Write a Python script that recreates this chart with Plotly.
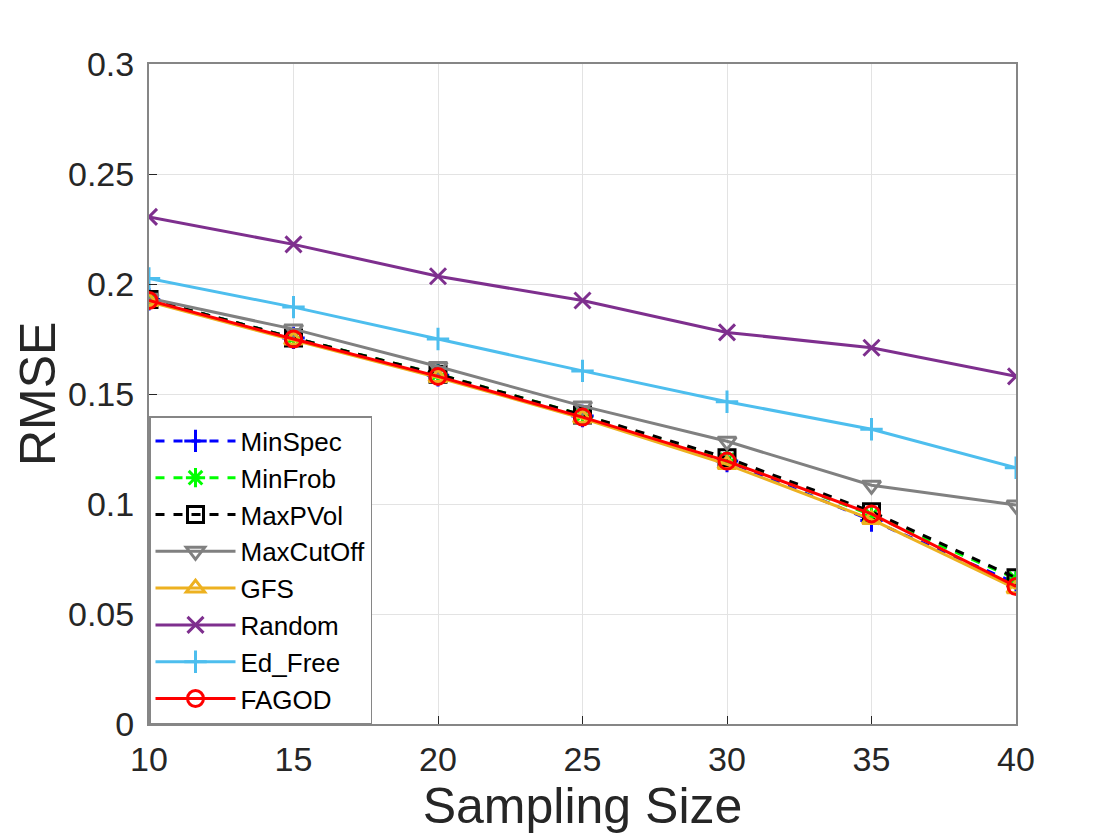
import plotly.graph_objects as go

sampling_size = [10, 15, 20, 25, 30, 35, 40]
min_spec = [0.193, 0.1755, 0.1585, 0.140, 0.1195, 0.0925, 0.064]
min_frob = [0.193, 0.1755, 0.159, 0.1405, 0.120, 0.095, 0.066]
max_pvol = [0.193, 0.1755, 0.159, 0.1405, 0.121, 0.0965, 0.0665]
max_cutoff = [0.1935, 0.1795, 0.1625, 0.1445, 0.1285, 0.1085, 0.0995]
gfs = [0.192, 0.1745, 0.1575, 0.139, 0.118, 0.093, 0.0615]
random_ = [0.2305, 0.218, 0.2035, 0.1925, 0.178, 0.171, 0.158]
ed_free = [0.2025, 0.1895, 0.175, 0.1605, 0.1465, 0.134, 0.1165]
fagod = [0.1925, 0.175, 0.158, 0.1395, 0.1195, 0.0955, 0.0625]

series = [
    ("MinSpec", min_spec, "#0000FF", "cross-thin-open", "dash"),
    ("MinFrob", min_frob, "#00FF00", "asterisk-open", "dash"),
    ("MaxPVol", max_pvol, "#000000", "square-open", "dash"),
    ("MaxCutOff", max_cutoff, "#808080", "triangle-down-open", "solid"),
    ("GFS", gfs, "#EDB120", "triangle-up-open", "solid"),
    ("Random", random_, "#7E2F8E", "x-thin-open", "solid"),
    ("Ed_Free", ed_free, "#4DBEEE", "cross-thin-open", "solid"),
    ("FAGOD", fagod, "#FF0000", "circle-open", "solid"),
]

fig = go.Figure()
for name, vals, color, sym, dash in series:
    fig.add_trace(go.Scatter(
        x=sampling_size, y=vals, name=name, mode="lines+markers",
        line=dict(color=color, width=3, dash=dash),
        marker=dict(symbol=sym, size=16, color=color,
                    line=dict(color=color, width=3)),
    ))

FONT = "Liberation Sans, Arial"
axis_common = dict(
    showgrid=True, gridcolor="#E3E3E3", gridwidth=1,
    showline=True, linecolor="#868686", linewidth=2, mirror=True,
    ticks="inside", ticklen=8, tickcolor="#262626",
    tickfont=dict(family=FONT, size=34, color="#262626"),
    zeroline=False,
)

fig.update_xaxes(range=[10, 40], tickvals=[10, 15, 20, 25, 30, 35, 40],
                 ticklabelstandoff=4,
                 title=dict(text="Sampling Size", standoff=8,
                            font=dict(family=FONT, size=50, color="#262626")),
                 **axis_common)
fig.update_yaxes(range=[0, 0.3], tickvals=[0, 0.05, 0.1, 0.15, 0.2, 0.25, 0.3],
                 ticktext=["0", "0.05", "0.1", "0.15", "0.2", "0.25", "0.3"],
                 ticklabelstandoff=6,
                 **axis_common)

fig.add_annotation(text="RMSE", xref="paper", yref="paper", x=0, y=0.5,
                   xanchor="center", yanchor="middle", xshift=-111,
                   textangle=-90, showarrow=False,
                   font=dict(family=FONT, size=50, color="#262626"))

fig.update_layout(
    width=1120, height=840,
    margin=dict(l=141, r=112, t=56, b=124),
    plot_bgcolor="white", paper_bgcolor="white",
    font=dict(family=FONT),
    legend=dict(x=0, y=0, xanchor="left", yanchor="bottom",
                bgcolor="white", bordercolor="#868686", borderwidth=1.5,
                font=dict(family=FONT, size=26, color="#000000"),
                tracegroupgap=0, itemwidth=80),
)

fig.write_html("out.html")
